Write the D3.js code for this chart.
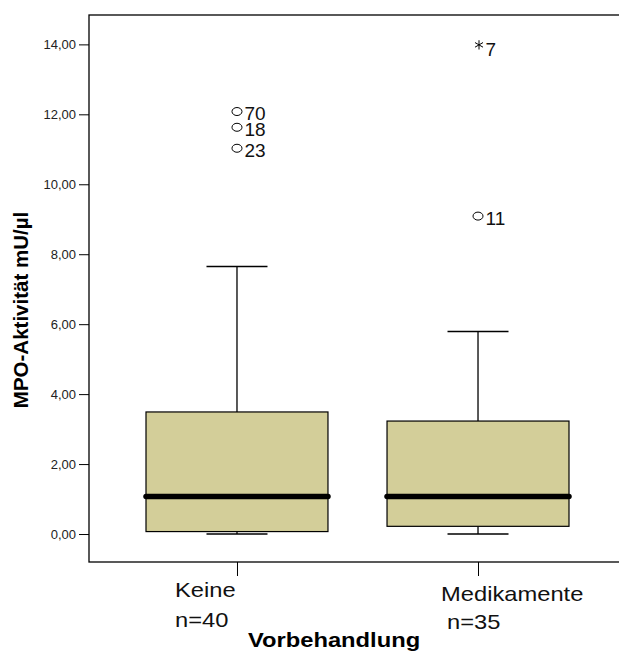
<!DOCTYPE html>
<html>
<head>
<meta charset="utf-8">
<script src="https://cdn.jsdelivr.net/npm/d3@7.9.0/dist/d3.min.js"></script>
<style>
  body { margin: 0; background: #fff; }
  svg { display: block; font-family: Arial, "Liberation Sans", sans-serif; }
</style>
</head>
<body>
<svg width="619" height="651"></svg>
<script>
// box plot summary per group
const groups = ["Keine", "Medikamente"];
const counts = [40, 35];
const whiskLow = [0.0, 0.0];
const q1 = [0.07, 0.22];
const median = [1.07, 1.07];
const q3 = [3.49, 3.23];
const whiskHigh = [7.65, 5.79];

// outliers (o) and extremes (*)
const outGroup = ["Keine", "Keine", "Keine", "Medikamente", "Medikamente"];
const outValue = [12.08, 11.63, 11.03, 13.9, 9.09];
const outId = ["70", "18", "23", "7", "11"];
const outKind = ["o", "o", "o", "*", "o"];

const yTicks = [0, 2, 4, 6, 8, 10, 12, 14];

const svg = d3.select("svg");
const plotL = 89, plotT = 15, plotB = 562, plotR = 626;

const x = d3.scalePoint().domain(groups).range([plotL, plotR]).padding(0.614);
const y = d3.scaleLinear().domain([-0.8, 14.84]).range([plotB, plotT]);
const boxW = x.step() * 0.755;
const capW = 61;
const fmt = d => d3.format(".2f")(d).replace(".", ",");

// frame
svg.append("rect")
  .attr("x", plotL).attr("y", plotT)
  .attr("width", plotR - plotL).attr("height", plotB - plotT)
  .attr("fill", "none").attr("stroke", "#000").attr("stroke-width", 1.3);

// y axis
const yAxis = svg.append("g")
  .attr("transform", `translate(${plotL},0)`)
  .call(d3.axisLeft(y).tickValues(yTicks).tickFormat(fmt).tickSize(10).tickPadding(3));
yAxis.select(".domain").remove();
yAxis.selectAll("line").attr("stroke", "#000");
yAxis.selectAll("text").attr("font-size", 13).attr("font-family", "Arial, 'Liberation Sans', sans-serif").attr("fill", "#222");

// x tick marks
const xAxis = svg.append("g")
  .attr("transform", `translate(0,${plotB})`)
  .call(d3.axisBottom(x).tickSize(14).tickFormat(""));
xAxis.select(".domain").remove();
xAxis.selectAll("line").attr("stroke", "#000");

// boxes
groups.forEach((g, i) => {
  const cx = x(g);
  const box = svg.append("g");
  box.append("line").attr("x1", cx).attr("x2", cx)
    .attr("y1", y(q3[i])).attr("y2", y(whiskHigh[i])).attr("stroke", "#000").attr("stroke-width", 1.3);
  box.append("line").attr("x1", cx).attr("x2", cx)
    .attr("y1", y(q1[i])).attr("y2", y(whiskLow[i])).attr("stroke", "#000").attr("stroke-width", 1.3);
  [whiskHigh[i], whiskLow[i]].forEach(v => {
    box.append("line").attr("x1", cx - capW / 2).attr("x2", cx + capW / 2)
      .attr("y1", y(v)).attr("y2", y(v)).attr("stroke", "#000").attr("stroke-width", 1.5);
  });
  box.append("rect")
    .attr("x", cx - boxW / 2).attr("width", boxW)
    .attr("y", y(q3[i])).attr("height", y(q1[i]) - y(q3[i]))
    .attr("fill", "#d3ce99").attr("stroke", "#000").attr("stroke-width", 1.2);
  box.append("line")
    .attr("x1", cx - boxW / 2).attr("x2", cx + boxW / 2)
    .attr("y1", y(median[i])).attr("y2", y(median[i]))
    .attr("stroke", "#000").attr("stroke-width", 5.5).attr("stroke-linecap", "round");
});

// outliers
const star = d3.symbol().type(d3.symbolAsterisk).size(60);
outValue.forEach((v, i) => {
  const cx = x(outGroup[i]), cy = y(v);
  if (outKind[i] === "o") {
    svg.append("ellipse").attr("cx", cx).attr("cy", cy).attr("rx", 5).attr("ry", 4)
      .attr("fill", "none").attr("stroke", "#000").attr("stroke-width", 1);
  } else {
    svg.append("path").attr("d", star()).attr("transform", `translate(${cx + 1},${cy - 3})`)
      .attr("fill", "none").attr("stroke", "#000").attr("stroke-width", 1);
  }
  svg.append("text").attr("x", cx + 7.5).attr("y", cy + 8.5)
    .attr("font-size", 19).attr("fill", "#111").text(outId[i]);
});

// category labels (slightly wide, as in the original)
const stretch = 1.13;
const labelX = [175, 441], nX = [175, 447], labelY = [597, 601], nY = [627, 629];
groups.forEach((g, i) => {
  svg.append("text").attr("transform", `translate(${labelX[i]},${labelY[i]}) scale(${stretch},1)`)
    .attr("font-size", 21).attr("fill", "#111").text(g);
  svg.append("text").attr("transform", `translate(${nX[i]},${nY[i]}) scale(${stretch},1)`)
    .attr("font-size", 21).attr("fill", "#111").text(`n=${counts[i]}`);
});

// axis titles
svg.append("text").attr("transform", `translate(248,647) scale(${stretch},1)`)
  .attr("font-size", 21).attr("font-weight", "bold").text("Vorbehandlung");
svg.append("text").attr("transform", "translate(28,310) rotate(-90)")
  .attr("text-anchor", "middle").attr("font-size", 20.5).attr("font-weight", "bold")
  .text("MPO-Aktivität mU/µl");
</script>
</body>
</html>
